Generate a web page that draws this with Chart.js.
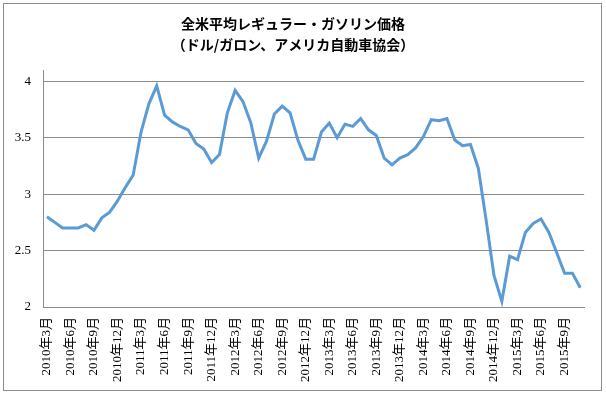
<!DOCTYPE html>
<html>
<head>
<meta charset="utf-8">
<script src="https://cdn.jsdelivr.net/npm/chart.js@4"></script>
<style>
  html, body { margin: 0; padding: 0; background: #fff; }
  #wrap { width: 606px; height: 395px; position: relative; }
</style>
</head>
<body>
<div id="wrap"><canvas id="gasChart"></canvas></div>
<script>
// monthly, 2010年3月 .. 2015年11月
const months = [
    "2010年3月", "2010年4月", "2010年5月", "2010年6月", "2010年7月", "2010年8月", "2010年9月", "2010年10月", "2010年11月", "2010年12月",
    "2011年1月", "2011年2月", "2011年3月", "2011年4月", "2011年5月", "2011年6月", "2011年7月", "2011年8月", "2011年9月", "2011年10月", "2011年11月", "2011年12月",
    "2012年1月", "2012年2月", "2012年3月", "2012年4月", "2012年5月", "2012年6月", "2012年7月", "2012年8月", "2012年9月", "2012年10月", "2012年11月", "2012年12月",
    "2013年1月", "2013年2月", "2013年3月", "2013年4月", "2013年5月", "2013年6月", "2013年7月", "2013年8月", "2013年9月", "2013年10月", "2013年11月", "2013年12月",
    "2014年1月", "2014年2月", "2014年3月", "2014年4月", "2014年5月", "2014年6月", "2014年7月", "2014年8月", "2014年9月", "2014年10月", "2014年11月", "2014年12月",
    "2015年1月", "2015年2月", "2015年3月", "2015年4月", "2015年5月", "2015年6月", "2015年7月", "2015年8月", "2015年9月", "2015年10月", "2015年11月"
];

const prices = [
    2.80, 2.75, 2.70, 2.70, 2.70, 2.73, 2.68, 2.79, 2.84, 2.94,
    3.06, 3.17, 3.55, 3.80, 3.96, 3.70, 3.64, 3.60, 3.57, 3.45, 3.40, 3.28,
    3.35, 3.72, 3.92, 3.82, 3.63, 3.32, 3.47, 3.71, 3.78, 3.72, 3.48, 3.31,
    3.31, 3.55, 3.63, 3.50, 3.62, 3.60, 3.67, 3.57, 3.52, 3.32, 3.26, 3.32,
    3.35, 3.41, 3.51, 3.66, 3.65, 3.67, 3.48, 3.43, 3.44, 3.23, 2.77, 2.28,
    2.05, 2.45, 2.42, 2.66, 2.74, 2.78, 2.66, 2.48, 2.30, 2.30, 2.17
];

const yTicks = [2, 2.5, 3, 3.5, 4];

const titleLines = ["全米平均レギュラー・ガソリン価格", "（ドル/ガロン、アメリカ自動車協会）"];

const serif = "'Liberation Serif', 'DejaVu Serif', 'Noto Sans CJK JP', serif";

const frame = {
    id: "frame",
    beforeDraw(chart) {
        const c = chart.ctx;
        c.save();
        c.fillStyle = "#fff";
        c.fillRect(0, 0, chart.width, chart.height);
        c.restore();
    },
    afterDraw(chart) {
        const c = chart.ctx;
        c.save();
        c.strokeStyle = "#8c8c8c";
        c.lineWidth = 1;
        c.strokeRect(3.5, 3.5, 598, 387);
        c.restore();
    }
};

const ctx = document.getElementById("gasChart").getContext("2d");
const chart = new Chart(ctx, {
    type: "line",
    data: {
        labels: months,
        datasets: [{
            label: "価格",
            data: prices,
            borderColor: "#5b9bd5",
            borderWidth: 3,
            pointRadius: 0,
            tension: 0,
            fill: false
        }]
    },
    options: {
        responsive: true,
        maintainAspectRatio: false,
        animation: false,
        layout: { padding: { left: 0, right: 20, top: 0, bottom: 0 } },
        plugins: {
            legend: { display: false },
            tooltip: { enabled: false },
            title: {
                display: true,
                text: titleLines,
                color: "#000",
                font: { family: "'Noto Sans CJK JP', sans-serif", size: 14, weight: "bold", lineHeight: 1.5 },
                padding: { top: 13, bottom: 15 }
            }
        },
        scales: {
            x: {
                offset: true,
                grid: { display: false, drawTicks: false },
                border: { display: true, color: "#8c8c8c", width: 1 },
                ticks: {
                    autoSkip: false,
                    minRotation: 90,
                    maxRotation: 90,
                    padding: 10,
                    color: "#000",
                    font: { family: serif, size: 13 },
                    callback: (v, i) => (i % 3 === 0 ? months[i] : "")
                },
                afterFit: s => { s.height = 88; }
            },
            y: {
                min: 2,
                max: 4.1,
                grid: { color: "#8c8c8c", drawTicks: false },
                border: { display: true, color: "#8c8c8c", width: 1 },
                ticks: {
                    stepSize: 0.5,
                    padding: 12,
                    color: "#000",
                    font: { family: serif, size: 13 },
                    callback: v => String(v)
                },
                afterBuildTicks: s => { s.ticks = yTicks.map(v => ({ value: v })); },
                afterFit: s => { s.width = 43; }
            }
        }
    },
    plugins: [frame]
});
</script>
</body>
</html>
